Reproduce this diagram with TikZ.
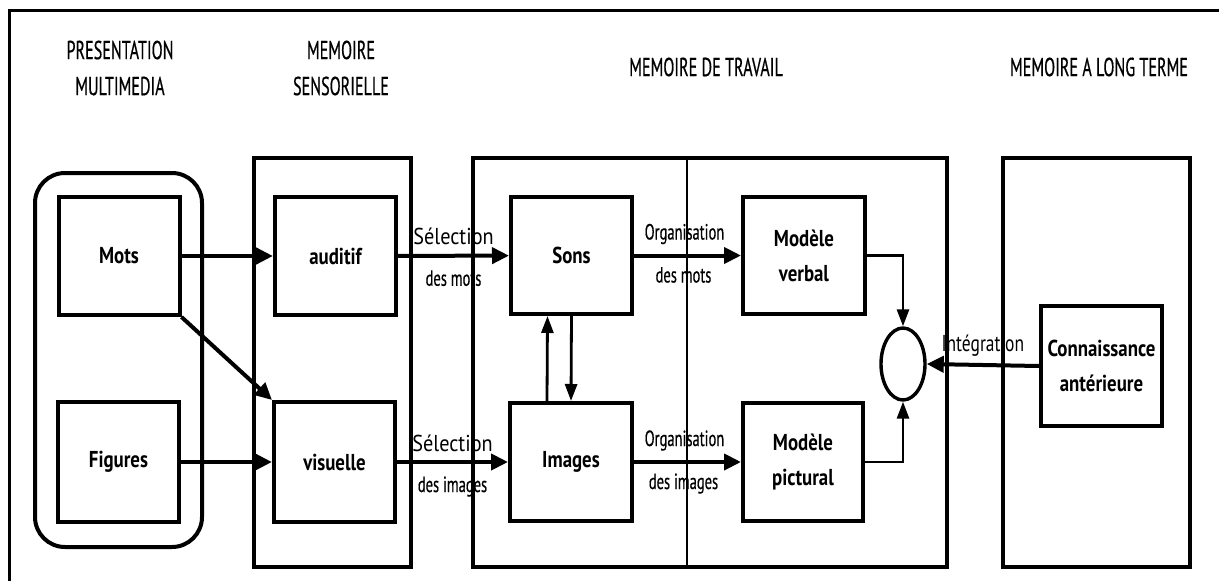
\documentclass[tikz,border=0pt]{standalone}
\usepackage{fontspec}
\setmainfont{PT Sans}
\newfontfamily\hdfam[FakeStretch=0.62,FakeBold=0.5]{PT Sans}
\newfontfamily\bxfam[FakeStretch=0.82]{PT Sans}
\newfontfamily\selfam[FakeStretch=0.88]{PT Sans}
\newfontfamily\intfam[FakeStretch=0.76]{PT Sans}
\newfontfamily\subfam[FakeStretch=0.66,FakeBold=0.4]{PT Sans}
\usetikzlibrary{arrows.meta,shapes.geometric}

\tikzset{
  box/.style={draw, line width=4pt, minimum width=121pt, minimum height=118pt,
    inner sep=0pt, align=center, font=\bxfam\bfseries\fontsize{23}{35}\selectfont},
  grp/.style={draw, line width=3.4pt, inner sep=0pt},
  hd/.style={align=center, font=\hdfam\fontsize{26}{36}\selectfont},
  sel/.style={anchor=base, font=\selfam\fontsize{23}{25}\selectfont},
  intl/.style={anchor=base, font=\intfam\fontsize{23}{25}\selectfont},
  sub/.style={anchor=base, font=\subfam\fontsize{22}{25}\selectfont},
  bigarr/.style={line width=4.6pt, -{Triangle[length=18pt,width=17pt]}},
  arr/.style={line width=4pt, -{Triangle[length=17pt,width=16pt]}},
  thinarr/.style={line width=2.8pt, -{Triangle[length=17pt,width=12pt]}},
}

\begin{document}
\begin{tikzpicture}[x=1pt,y=-1pt]
\fill[white] (0,0) rectangle (1219,581);
\useasboundingbox (0,0) rectangle (1219,581);

% outer frame
\draw[line width=3pt] (9,581) -- (9,10) -- (1219,10);

% column headings
\node[hd] (h1) at (120,68) {PRESENTATION\\MULTIMEDIA};
\node[hd] (h2) at (341,68) {MEMOIRE\\SENSORIELLE};
\node[hd] (h3) at (706,67) {MEMOIRE DE TRAVAIL};
\node[hd] (h4) at (1099,67) {MEMOIRE A LONG TERME};

% group frames
\node[grp, line width=4pt, rounded corners=30pt, minimum width=167pt, minimum height=374pt] (multi) at (118.5,360) {};
\node[grp, minimum width=157pt, minimum height=409pt] (sens) at (332.5,362.5) {};
\node[grp, minimum width=474pt, minimum height=409pt] (work) at (710,362.5) {};
\node[grp, minimum width=187pt, minimum height=409pt] (ltm) at (1096.5,362.5) {};
\draw[line width=2.6pt] ([xshift=-23pt]work.north) -- ([xshift=-23pt]work.south);

% boxes
\node[box] (mots) at (119,256) {Mots};
\node[box, minimum height=120pt] (figures) at (118.5,462) {Figures};
\node[box] (auditif) at (335.5,256) {auditif};
\node[box, minimum height=120pt] (visuelle) at (334.5,462) {visuelle};
\node[box, minimum height=117pt] (sons) at (571.5,255.5) {Sons};
\node[box, minimum width=122pt] (images) at (571,462) {Images};
\node[box, minimum width=122pt, minimum height=117pt] (verbal) at (804,255.5) {Modèle\\verbal};
\node[box, minimum width=120pt] (pictural) at (803,462) {Modèle\\pictural};
\node[box, minimum height=120pt] (conn) at (1101.5,366) {Connaissance\\antérieure};
\node[draw, ellipse, line width=3.4pt, minimum width=44pt, minimum height=72pt, inner sep=0pt] (circ) at (903,364) {};

% connectors
\draw[bigarr] (mots) -- (auditif);
\draw[bigarr] (figures) -- (visuelle);
\draw[arr] (mots.south east) -- (visuelle.north west);

\draw[arr] (auditif) -- (sons)
  node[sel, midway, yshift=11pt] {Sélection}
  node[sub, midway, yshift=-30pt] {des mots};
\draw[arr] (visuelle) -- (images)
  node[sel, midway, yshift=11pt] {Sélection}
  node[sub, midway, yshift=-30pt] {des images};
\draw[arr] (sons) -- (verbal)
  node[sub, midway, xshift=-3pt, yshift=16pt] {Organisation}
  node[sub, midway, xshift=-4pt, yshift=-27pt] {des mots};
\draw[arr] (images) -- (pictural)
  node[sub, midway, xshift=-3pt, yshift=16pt] {Organisation}
  node[sub, midway, xshift=-4pt, yshift=-27pt] {des images};

\draw[thinarr] ([xshift=-24pt]images.north) -- ([xshift=-24pt]sons.south);
\draw[thinarr] (sons.south) -- (images.north);

\draw[thinarr] (verbal.east) -| (circ.north);
\draw[thinarr] (pictural.east) -| (circ.south);
\draw[arr] (conn.west) -- (circ.east)
  node[intl, midway, yshift=14pt] {Intégration};
\end{tikzpicture}
\end{document}
